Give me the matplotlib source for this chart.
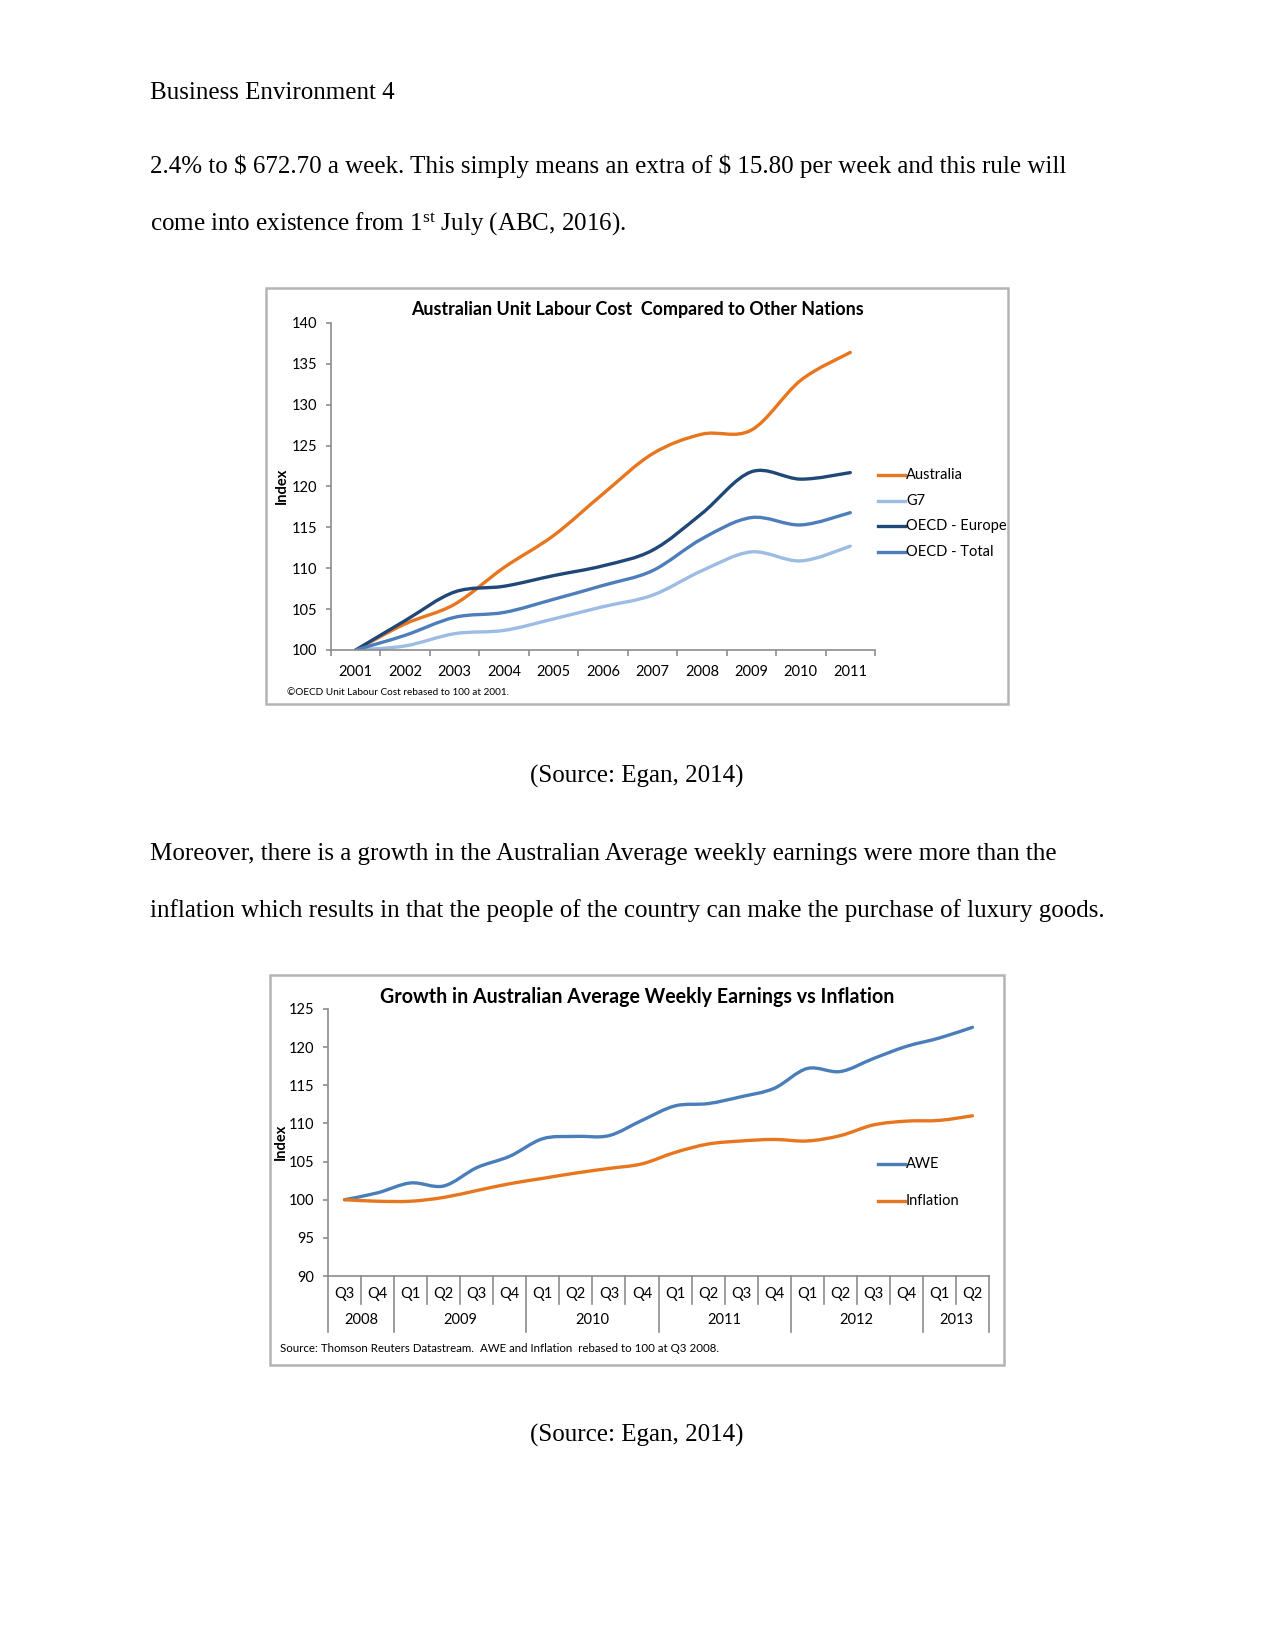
import matplotlib
matplotlib.use('Agg')
import matplotlib.pyplot as plt
from matplotlib.patches import Rectangle, PathPatch
from matplotlib.path import Path
from matplotlib.lines import Line2D
import matplotlib.transforms as mtransforms

# Page size in pixels (letter page at 150 dpi)
W, H = 1275, 1650

# ---- data: chart 1 (unit labour cost, rebased 2001 = 100) ----
years = ['2001', '2002', '2003', '2004', '2005', '2006', '2007', '2008', '2009', '2010', '2011']
australia = [100, 103.2, 105.6, 110.1, 114.0, 119.1, 124.0, 126.4, 126.9, 133.0, 136.4]
g7 = [100, 100.5, 102.0, 102.4, 103.8, 105.3, 106.7, 109.7, 112.0, 110.9, 112.7]
oecd_europe = [100, 103.6, 107.1, 107.8, 109.1, 110.3, 112.2, 116.7, 121.8, 120.9, 121.7]
oecd_total = [100, 101.8, 104.0, 104.6, 106.2, 107.9, 109.7, 113.6, 116.2, 115.3, 116.8]
series1_names = ['Australia', 'G7', 'OECD - Europe', 'OECD - Total']
series1_colors = ['#E8761E', '#9DBCE3', '#1F4878', '#4D7EBB']

# ---- data: chart 2 (AWE vs inflation, rebased Q3 2008 = 100) ----
quarters = ['Q3', 'Q4', 'Q1', 'Q2', 'Q3', 'Q4', 'Q1', 'Q2', 'Q3', 'Q4',
            'Q1', 'Q2', 'Q3', 'Q4', 'Q1', 'Q2', 'Q3', 'Q4', 'Q1', 'Q2']
year_groups = ['2008', '2009', '2010', '2011', '2012', '2013']
year_counts = [2, 4, 4, 4, 4, 2]
awe = [100, 100.9, 102.2, 101.8, 104.2, 105.7, 108.0, 108.3, 108.4, 110.4,
       112.3, 112.6, 113.5, 114.6, 117.2, 116.8, 118.5, 120.1, 121.2, 122.6]
inflation = [100, 99.8, 99.8, 100.3, 101.2, 102.1, 102.8, 103.5, 104.1, 104.7,
             106.2, 107.3, 107.7, 107.9, 107.7, 108.4, 109.8, 110.3, 110.4, 111.0]
series2_names = ['AWE', 'Inflation']
series2_colors = ['#4A7EBB', '#E8761E']

plt.rcParams['mathtext.fontset'] = 'custom'
plt.rcParams['mathtext.rm'] = 'Liberation Serif'
plt.rcParams['mathtext.it'] = 'Liberation Serif'

SERIF = 'Liberation Serif'
SANS = 'Lato'
AXIS_GREY = '#8C8C8C'


def fx(x):
    return x / W


def fy(y):
    return 1 - y / H


def px_rect(x0, y0, x1, y1):
    # pixel box (top-left origin) -> figure fraction rect
    return [x0 / W, 1 - y1 / H, (x1 - x0) / W, (y1 - y0) / H]


def smooth_line(ax, xs, ys, color):
    # Excel-style "smoothed line": bezier segments through the data points
    n = len(xs)
    verts = [(xs[0], ys[0])]
    codes = [Path.MOVETO]
    for i in range(n - 1):
        p0 = max(i - 1, 0)
        p3 = min(i + 2, n - 1)
        c1 = (xs[i] + (xs[i + 1] - xs[p0]) / 6, ys[i] + (ys[i + 1] - ys[p0]) / 6)
        c2 = (xs[i + 1] - (xs[p3] - xs[i]) / 6, ys[i + 1] - (ys[p3] - ys[i]) / 6)
        verts += [c1, c2, (xs[i + 1], ys[i + 1])]
        codes += [Path.CURVE4] * 3
    patch = PathPatch(Path(verts, codes), fill=False, edgecolor=color, lw=1.6,
                      capstyle='round', joinstyle='round')
    ax.add_patch(patch)


fig = plt.figure(figsize=(W / 150, H / 150), dpi=150)
fig.patch.set_facecolor('white')

# ---- document text ----
body = dict(family=SERIF, fontsize=12, color='black', va='baseline')
fig.text(fx(150), fy(99), 'Business Environment 4', **body)
fig.text(fx(150), fy(173), '2.4% to \\$ 672.70 a week. This simply means an extra of \\$ 15.80 per week and this rule will', **body)
fig.text(fx(150), fy(231), 'come into existence from 1$^{\\mathrm{st}}$ July (ABC, 2016).', **body)
fig.text(fx(637), fy(783), '(Source: Egan, 2014)', ha='center', **body)
fig.text(fx(150), fy(860), 'Moreover, there is a growth in the Australian Average weekly earnings were more than the', **body)
fig.text(fx(150), fy(917), 'inflation which results in that the people of the country can make the purchase of luxury goods.', **body)
fig.text(fx(637), fy(1442), '(Source: Egan, 2014)', ha='center', **body)


def style_axes(ax):
    for side in ['top', 'right']:
        ax.spines[side].set_visible(False)
    for side in ['left', 'bottom']:
        ax.spines[side].set_color(AXIS_GREY)
        ax.spines[side].set_linewidth(0.8)
    ax.tick_params(axis='y', direction='out', length=2.5, width=0.8, color=AXIS_GREY,
                   labelsize=7, pad=4, labelcolor='black')
    for lab in ax.get_yticklabels():
        lab.set_family(SANS)
    ax.set_facecolor('white')


def legend(names, colors, x, y0, step):
    for i, (name, col) in enumerate(zip(names, colors)):
        yy = y0 + i * step
        fig.add_artist(Line2D([fx(x), fx(x + 27)], [fy(yy), fy(yy)], color=col, lw=1.6))
        fig.text(fx(x + 28), fy(yy), name, family=SANS, fontsize=7, va='center', ha='left')


# ---- chart 1 ----
fig.add_artist(Rectangle((fx(266), fy(704)), (1008 - 266) / W, (704 - 288) / H,
                         transform=fig.transFigure, fill=False, ec='#B4B4B4', lw=1.2))
ax1 = fig.add_axes(px_rect(331, 323, 875, 650))
x1 = list(range(len(years)))
for vals, col in zip([australia, g7, oecd_europe, oecd_total], series1_colors):
    smooth_line(ax1, x1, vals, col)
ax1.set_xlim(-0.5, len(years) - 0.5)
ax1.set_ylim(100, 140)
ax1.set_yticks(range(100, 141, 5))
ax1.set_xticks(x1)
ax1.set_xticklabels(years, family=SANS, fontsize=7)
ax1.set_xticks([i - 0.5 for i in range(len(years) + 1)], minor=True)
ax1.tick_params(axis='x', which='major', length=0, pad=7)
ax1.tick_params(axis='x', which='minor', direction='out', length=3, width=0.8, color=AXIS_GREY)
style_axes(ax1)
fig.text(fx(637), fy(310), 'Australian Unit Labour Cost  Compared to Other Nations',
         family=SANS, fontsize=8.6, fontweight='bold', ha='center', va='center')
fig.text(fx(282), fy(486), 'Index', family=SANS, fontsize=7, fontweight='bold',
         rotation=90, ha='center', va='center')
fig.text(fx(287), fy(692), '\u00a9OECD Unit Labour Cost rebased to 100 at 2001.',
         family=SANS, fontsize=4.8, ha='left', va='center')
legend(series1_names, series1_colors, 878, 475, 25.7)

# ---- chart 2 ----
fig.add_artist(Rectangle((fx(270), fy(1365)), (1004 - 270) / W, (1365 - 975) / H,
                         transform=fig.transFigure, fill=False, ec='#B4B4B4', lw=1.2))
ax2 = fig.add_axes(px_rect(328, 1009, 989, 1276))
x2 = list(range(len(quarters)))
for vals, col in zip([awe, inflation], series2_colors):
    smooth_line(ax2, x2, vals, col)
ax2.set_xlim(-0.5, len(quarters) - 0.5)
ax2.set_ylim(90, 125)
ax2.set_yticks(range(90, 126, 5))
ax2.set_xticks([])
style_axes(ax2)
ax2.spines['left'].set_bounds(90, 125)

trans = mtransforms.blended_transform_factory(ax2.transData, ax2.transAxes)
ax_h = 1276 - 1009
q_drop = -28 / ax_h
y_drop = -56 / ax_h
for i, q in enumerate(quarters):
    ax2.text(i, -18 / ax_h, q, transform=trans, family=SANS, fontsize=7,
             ha='center', va='center')
# group separators and year labels
start = 0
bounds = [-0.5]
for yr, n in zip(year_groups, year_counts):
    ax2.text(start + (n - 1) / 2, -44 / ax_h, yr, transform=trans, family=SANS,
             fontsize=7, ha='center', va='center')
    start += n
    bounds.append(start - 0.5)
for i in range(len(quarters) + 1):
    b = i - 0.5
    low = y_drop if b in bounds else q_drop
    ax2.plot([b, b], [0, low], transform=trans, color=AXIS_GREY, lw=0.8, clip_on=False)

fig.text(fx(637), fy(997), 'Growth in Australian Average Weekly Earnings vs Inflation',
         family=SANS, fontsize=9.4, fontweight='bold', ha='center', va='center')
fig.text(fx(281), fy(1142), 'Index', family=SANS, fontsize=7, fontweight='bold',
         rotation=90, ha='center', va='center')
fig.text(fx(280), fy(1349), 'Source: Thomson Reuters Datastream.  AWE and Inflation  rebased to 100 at Q3 2008.',
         family=SANS, fontsize=5.5, ha='left', va='center')
legend(series2_names, series2_colors, 878, 1164, 37)

fig.savefig('out.png', dpi=150)
